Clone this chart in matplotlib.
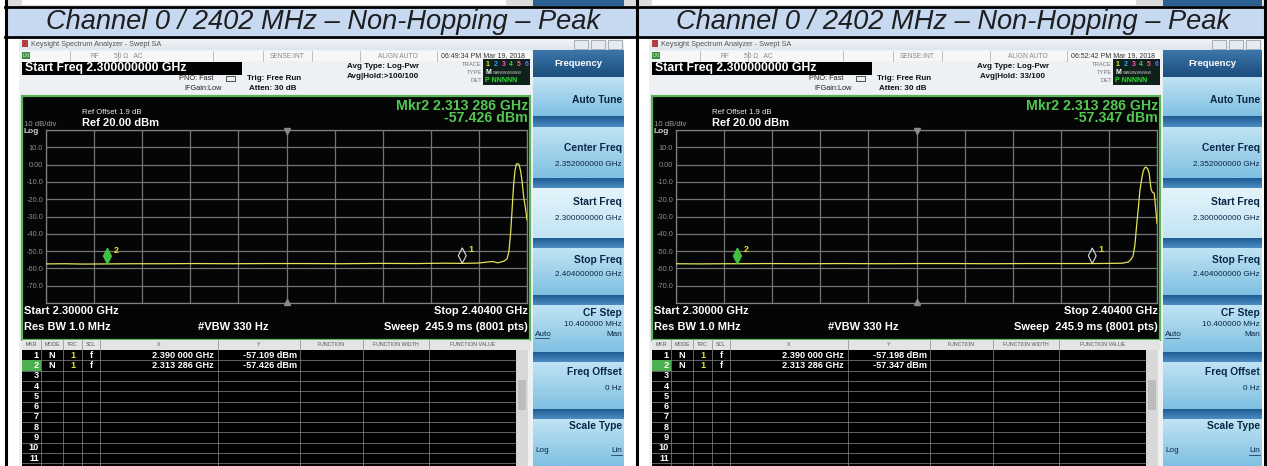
import numpy as np
import matplotlib
matplotlib.use("Agg")
import matplotlib.pyplot as plt
from matplotlib.patches import Rectangle, Polygon

plt.rcParams['font.family'] = ['Liberation Sans', 'DejaVu Sans']

W, H = 1267, 466

title = "Channel 0 / 2402 MHz \u2013 Non-Hopping \u2013 Peak"
y_grid = [20, 10, 0, -10, -20, -30, -40, -50, -60, -70, -80]
y_labels = ["", "10.0", "0.00", "-10.0", "-20.0", "-30.0", "-40.0", "-50.0", "-60.0", "-70.0", ""]
f_start, f_stop = 2.300, 2.404

# trace (GHz, dBm)
left_freq = [2.300, 2.304, 2.308, 2.3133, 2.318, 2.325, 2.332, 2.340, 2.348, 2.356,
             2.364, 2.372, 2.380, 2.386, 2.390, 2.3935, 2.3966, 2.3977, 2.3990, 2.3997,
             2.4001, 2.4005, 2.4008, 2.4011, 2.4014, 2.4017, 2.4020, 2.4023, 2.4026,
             2.4029, 2.4033, 2.4036, 2.4038, 2.4040]
left_level = [-57.4, -57.3, -57.5, -57.4, -57.3, -57.3, -57.2, -57.3, -57.2, -57.2,
              -57.3, -57.1, -57.2, -57.0, -57.1, -56.9, -56.0, -56.8, -55.8, -54.5,
              -50.0, -38.0, -25.0, -12.0, -3.5, 0.3, 0.6, -0.2, -3.5,
              -9.0, -19.0, -24.0, -28.0, -32.0]

# trace (GHz, dBm)
right_freq = [2.300, 2.305, 2.310, 2.3133, 2.320, 2.328, 2.336, 2.344, 2.352, 2.360,
              2.368, 2.376, 2.384, 2.390, 2.394, 2.3965, 2.3978, 2.3983, 2.3988, 2.3992,
              2.3995, 2.4000, 2.4003, 2.4007, 2.4010, 2.4013, 2.4016, 2.4020, 2.4023,
              2.4027, 2.4030, 2.4034, 2.4036, 2.4038, 2.4040]
right_level = [-57.3, -57.4, -57.3, -57.3, -57.2, -57.3, -57.2, -57.3, -57.2, -57.2,
               -57.3, -57.2, -57.2, -57.2, -57.1, -57.0, -56.3, -55.0, -53.0, -47.0,
               -38.0, -24.0, -15.0, -8.0, -4.0, -2.0, -1.4, -2.5, -5.0,
               -14.0, -16.0, -16.5, -22.0, -28.0, -34.0]

marker_ids = ["1", "2"]
marker_freq = [2.390, 2.313286]
marker_x_text = ["2.390 000 GHz", "2.313 286 GHz"]
left_marker_level = [-57.109, -57.426]
right_marker_level = [-57.198, -57.347]
left_clock = "06:49:34 PM Mar 19, 2018"
right_clock = "06:52:42 PM Mar 19, 2018"
left_avg = "Avg|Hold:>100/100"
right_avg = "Avg|Hold: 33/100"

table_cols = ["MKR", "MODE", "TRC", "SCL", "X", "Y", "FUNCTION", "FUNCTION WIDTH", "FUNCTION VALUE"]
table_edges = [22, 41, 63, 82, 100, 218, 300, 363, 429, 516]
softkey_names = ["Auto Tune", "Center Freq", "Start Freq", "Stop Freq", "CF Step", "Freq Offset", "Scale Type"]
softkey_values = ["", "2.352000000 GHz", "2.300000000 GHz", "2.404000000 GHz", "10.400000 MHz", "0 Hz", ""]

fig = plt.figure(figsize=(W / 100, H / 100), dpi=100)
cv = fig.add_axes([0, 0, 1, 1])
cv.axis("off")


def rect(x, y, w, h, color, z=1, **kw):
    cv.add_patch(Rectangle((x, y), w, h, facecolor=color, edgecolor="none", zorder=z, **kw))


def txt(x, y, s, size, color="black", ha="left", weight="normal", z=5, **kw):
    cv.text(x, y, s, fontsize=size, color=color, ha=ha, va="center", fontweight=weight, zorder=z, **kw)


def vgrad(x, y, w, h, top, bottom, z=1):
    a = np.array(matplotlib.colors.to_rgb(top))
    b = np.array(matplotlib.colors.to_rgb(bottom))
    t = np.linspace(0, 1, 32)[:, None, None]
    img = a * (1 - t) + b * t
    cv.imshow(img, extent=(x, x + w, y + h, y), aspect="auto", zorder=z, interpolation="bilinear")


def panel(x0, clock, avg, mk_level, freq, level, pw, sw):
    right = x0 + 533 + sw
    # remnant of the previous capture above the title row
    rect(x0 + 8, 0, pw, 6, "#dcdcdc")
    rect(x0 + 22, 0, 484, 5, "#ffffff", z=2)
    rect(x0 + 533, 0, sw, 6, "#2a5f90", z=2)

    # title row
    rect(x0 + 8, 8, pw, 28, "#c6d9f1")
    txt(x0 + 323, 22, title, 19.6, "#1e1e1e", ha="center", style="italic")

    # window frame
    rect(x0 + 19, 38, right - x0 - 19, 428, "#eef1f4")
    vgrad(x0 + 19, 38, right - x0 - 19, 12, "#f3f6f9", "#dfe5ec")
    rect(x0 + 22, 40, 6, 7, "#b04040", z=3)
    txt(x0 + 31, 44, "Keysight Spectrum Analyzer - Swept SA", 5.3, "#555555")
    for bx in (50, 33, 16):
        cv.add_patch(Rectangle((right - bx, 40), 14, 9, facecolor="#e6ebf0", edgecolor="#9aa5b0", lw=0.6, zorder=3))

    # status row
    rect(x0 + 22, 51, 508, 10, "#f7f7f7", z=2)
    for sx in (70, 118, 213, 263, 312, 360, 437):
        cv.plot([x0 + sx, x0 + sx], [51, 61], color="#b5b5b5", lw=0.6, zorder=3)
    rect(x0 + 22, 52, 8, 7, "#3c8c3c", z=3)
    txt(x0 + 23, 55.5, "LXI", 3.5, "#d0ffd0")
    txt(x0 + 95, 56, "RF", 4.8, "#888888", ha="center")
    txt(x0 + 128, 56, "50 \u03a9   AC", 4.8, "#888888", ha="center")
    txt(x0 + 287, 56, "SENSE:INT", 4.8, "#888888", ha="center")
    txt(x0 + 398, 56, "ALIGN AUTO", 4.8, "#888888", ha="center")
    txt(x0 + 483, 56, clock, 5.0, "#333333", ha="center")

    # active function and settings
    rect(x0 + 22, 62, 220, 13, "#000000", z=2)
    txt(x0 + 25, 68.5, "Start Freq 2.300000000 GHz", 8.8, "white", weight="bold")
    txt(x0 + 213, 79, "PNO: Fast", 5.3, "#222222", ha="right")
    txt(x0 + 222, 88, "IFGain:Low", 5.3, "#222222", ha="right")
    cv.add_patch(Rectangle((x0 + 226, 76), 9, 5, facecolor="none", edgecolor="#333333", lw=0.6, zorder=3))
    txt(x0 + 247, 78, "Trig: Free Run", 5.8, "#111111", weight="bold")
    txt(x0 + 249, 88, "Atten: 30 dB", 5.8, "#111111", weight="bold")
    txt(x0 + 383, 66, "Avg Type: Log-Pwr", 5.8, "#111111", ha="center", weight="bold")
    txt(x0 + 383, 77, avg, 5.8, "#111111", ha="center", weight="bold")
    txt(x0 + 482, 64, "TRACE", 4.2, "#777777", ha="right")
    txt(x0 + 482, 72.5, "TYPE", 4.2, "#777777", ha="right")
    txt(x0 + 482, 81, "DET", 4.2, "#777777", ha="right")
    rect(x0 + 483, 59, 47, 26, "#10201a", z=2)
    for k, c in enumerate(["#e8e820", "#30a0ff", "#ff50c8", "#40d040", "#ff60a0", "#6070ff"]):
        txt(x0 + 486 + k * 7.8, 64, str(k + 1), 5.0, c, weight="bold")
    txt(x0 + 485, 72.5, "M", 5.0, "white", weight="bold")
    txt(x0 + 492, 72.5, "wwwwwwww", 3.6, "#bbbbbb")
    txt(x0 + 485, 81, "P NNNNN", 5.0, "#30e030", weight="bold")

    # measurement window
    cv.add_patch(Rectangle((x0 + 22, 96), 508, 244, facecolor="#050505", edgecolor="#58b558", lw=1.6, zorder=2))
    txt(x0 + 528, 106, "Mkr2 2.313 286 GHz", 10.2, "#52c852", ha="right", weight="bold")
    txt(x0 + 528, 118, "%.3f dBm" % mk_level[1], 10.2, "#52c852", ha="right", weight="bold")
    txt(x0 + 82, 113, "Ref Offset 1.9 dB", 5.6, "#e8e8e8")
    txt(x0 + 82, 123, "Ref 20.00 dBm", 8.0, "white", weight="bold")
    txt(x0 + 24, 125, "10 dB/div", 5.6, "#9a9a9a")
    txt(x0 + 24, 131.5, "Log", 6.0, "#cfcfcf", weight="bold")
    txt(x0 + 24, 311, "Start 2.30000 GHz", 8.0, "white", weight="bold")
    txt(x0 + 528, 311, "Stop 2.40400 GHz", 8.0, "white", ha="right", weight="bold")
    txt(x0 + 24, 327, "Res BW 1.0 MHz", 8.0, "white", weight="bold")
    txt(x0 + 198, 327, "#VBW 330 Hz", 8.0, "white", weight="bold")
    txt(x0 + 528, 327, "Sweep  245.9 ms (8001 pts)", 8.0, "white", ha="right", weight="bold")

    ax = fig.add_axes([(x0 + 46) / W, 1 - (130 + 173) / H, 481 / W, 173 / H])
    ax.set_facecolor("#050505")
    ax.set_xlim(f_start, f_stop)
    ax.set_ylim(-80, 20)
    ax.set_xticks(np.linspace(f_start, f_stop, 11), [""] * 11)
    ax.set_yticks(y_grid, y_labels)
    ax.tick_params(length=0, pad=2, labelsize=5.3, labelcolor="#8c8c8c")
    ax.grid(color="#747474", lw=0.9)
    for s in ax.spines.values():
        s.set_color("#808080")
        s.set_linewidth(0.9)
    ax.plot(freq, level, color="#e2e25a", lw=0.9, zorder=4)
    fc = (f_start + f_stop) / 2
    ax.plot([fc], [19.2], marker="v", color="#8a8a8a", ms=4, clip_on=False, zorder=5)
    ax.plot([fc], [-79.2], marker="^", color="#8a8a8a", ms=4, clip_on=False, zorder=5)
    dw, dh = 0.00085, 9.0
    for mid, f, lv in zip(marker_ids, marker_freq, mk_level):
        pts = [(f, lv), (f + dw, lv + dh / 2), (f, lv + dh), (f - dw, lv + dh / 2)]
        if mid == "2":
            ax.add_patch(Polygon(pts, closed=True, facecolor="#40c040", edgecolor="#40c040", zorder=6))
        else:
            ax.add_patch(Polygon(pts, closed=True, facecolor="none", edgecolor="#dddddd", lw=0.8, zorder=6))
        ax.text(f + 0.0013, lv + dh - 1, mid, color="#e8e020", fontsize=6.5, fontweight="bold", va="center")

    # marker table
    rect(x0 + 22, 340, 508, 10, "#e4e4e4", z=2)
    rect(x0 + 22, 350, 494, 116, "#000000", z=2)
    rect(x0 + 516, 350, 12, 116, "#d8d8d8", z=2)
    rect(x0 + 518, 380, 8, 30, "#bcbcbc", z=3)
    centers = [(table_edges[i] + table_edges[i + 1]) / 2 for i in range(len(table_cols))]
    for i, name in enumerate(table_cols):
        txt(x0 + centers[i], 345, name, 3.8, "#555555", ha="center")
    for e in table_edges[1:-1]:
        cv.plot([x0 + e, x0 + e], [340, 466], color="#8a8a8a", lw=0.5, zorder=3)
    row_h = 10.3
    for r in range(1, 12):
        cv.plot([x0 + 22, x0 + 516], [350 + r * row_h, 350 + r * row_h], color="#8a8a8a", lw=0.5, zorder=3)
    rect(x0 + 22, 350 + row_h, 19, row_h, "#4caf50", z=3)
    for r in range(11):
        txt(x0 + 39, 350 + (r + 0.5) * row_h, str(r + 1), 6.6, "white", ha="right", weight="bold", z=6)
    for r in range(2):
        yy = 350 + (r + 0.5) * row_h
        txt(x0 + 52, yy, "N", 6.6, "white", ha="center", weight="bold", z=6)
        txt(x0 + 73, yy, "1", 6.6, "#e8e020", ha="center", weight="bold", z=6)
        txt(x0 + 91, yy, "f", 6.6, "white", ha="center", weight="bold", z=6)
        txt(x0 + 214, yy, marker_x_text[r], 6.6, "white", ha="right", weight="bold", z=6)
        txt(x0 + 297, yy, "%.3f dBm" % mk_level[r], 6.6, "white", ha="right", weight="bold", z=6)

    # softkey column
    sx = x0 + 533
    vgrad(sx, 50, sw, 27, "#3b76aa", "#1b4d7d", z=2)
    txt(sx + sw / 2, 63, "Frequency", 6.8, "white", ha="center", weight="bold")
    tops = [77, 127, 188, 248, 305, 362, 419]
    bots = [116, 178, 238, 295, 352, 409, 466]
    for i in range(7):
        if i < 6:
            vgrad(sx, bots[i], sw, tops[i + 1] - bots[i], "#1f5c93", "#4a8cc2", z=2)
        if i == 2:
            vgrad(sx, tops[i], sw, bots[i] - tops[i], "#e4f4fb", "#c2e4f3", z=2)
        else:
            vgrad(sx, tops[i], sw, bots[i] - tops[i], "#bfe3f4", "#80c0e2", z=2)
    lab_y = [100, 148, 202, 260, 313, 372, 426]
    val_y = [0, 164, 218, 275, 324, 388, 0]
    for i in range(7):
        txt(sx + sw - 2, lab_y[i], softkey_names[i], 7.4, "#0a2646", ha="right", weight="bold")
        if softkey_values[i]:
            txt(sx + sw - 2, val_y[i], softkey_values[i], 5.9, "#0a2646", ha="right")
    txt(sx + 2, 334, "Auto", 5.9, "#0a2646")
    cv.plot([sx + 2, sx + 16], [338, 338], color="#0a2646", lw=0.5, zorder=5)
    txt(sx + sw - 2, 334, "Man", 5.9, "#0a2646", ha="right")
    txt(sx + 2, 451, "Log", 5.9, "#0a2646")
    txt(sx + sw - 2, 451, "Lin", 5.9, "#0a2646", ha="right")
    cv.plot([sx + sw - 13, sx + sw - 2], [455, 455], color="#0a2646", lw=0.5, zorder=5)


panel(0, left_clock, left_avg, left_marker_level, left_freq, left_level, 628, 91)
panel(630, right_clock, right_avg, right_marker_level, right_freq, right_level, 629, 99)

# table rules
for xx in (6, 637, 1265):
    cv.plot([xx, xx], [0, H], color="black", lw=2.2, zorder=8)
for yy in (7, 36.5):
    cv.plot([5, 1266], [yy, yy], color="black", lw=2.0, zorder=8)

cv.set_xlim(0, W)
cv.set_ylim(H, 0)
fig.savefig("out.png", dpi=100)
